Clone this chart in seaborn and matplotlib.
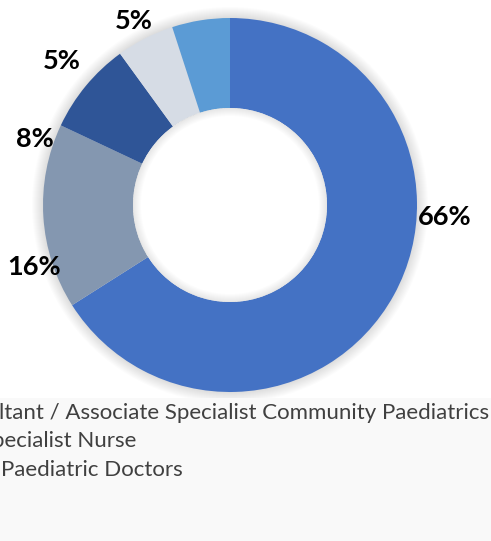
import matplotlib
matplotlib.use("Agg")
import matplotlib.pyplot as plt
from matplotlib.patches import Circle, Wedge, Rectangle
import seaborn as sns

# data
roles = ['Consultant / Associate Specialist Community Paediatrics',
         'Specialist Nurse',
         'Other Paediatric Doctors',
         'Other',
         'Other Staff']
shares = [66, 16, 8, 5, 5]
pct_labels = ['66%', '16%', '8%', '5%', '5%']
colors = ['#4472C4', '#8497B0', '#2F5597', '#D6DCE5', '#5B9BD5']

sns.set_theme(style='white')
plt.rcParams['font.family'] = ['Lato', 'DejaVu Sans']

W, H = 491, 541
fig = plt.figure(figsize=(W / 100, H / 100), dpi=100)
ax = fig.add_axes([0, 0, 1, 1])

cx, cy = 230, 205
r_out, r_in = 187, 97

# soft shadow round the ring
for k in range(1, 12):
    ax.add_patch(Circle((cx, cy), r_out + k, color='#000000', alpha=0.01, lw=0, zorder=0))

ax.pie(shares, colors=colors, startangle=-90, counterclock=True,
       center=(cx, cy), radius=r_out,
       wedgeprops=dict(width=r_out - r_in, linewidth=0))

# white hole with a faint inner shadow
ax.add_patch(Circle((cx, cy), r_in, color='white', lw=0, zorder=4))
for k in range(1, 9):
    ax.add_patch(Wedge((cx, cy), r_in, 0, 360, width=k, color='#000000',
                       alpha=0.01, lw=0, zorder=5))

# percentage labels (placed like the Excel best-fit labels)
label_xy = [(445, 217), (34, 267), (35, 139), (62, 61), (134, 21)]
for txt, (x, y) in zip(pct_labels, label_xy):
    ax.text(x, y, txt, ha='center', va='center', fontsize=19.5,
            fontweight='bold', color='black', zorder=6)

# legend box, left part cut off like the reference
ax.add_patch(Rectangle((0, 398), W, H - 398, color='#F9F9F9', lw=0, zorder=1))
legend_right = [489, 136, 183]
legend_y = [413, 441, 470]
for name, x, y in zip(roles[:3], legend_right, legend_y):
    ax.text(x, y, name, ha='right', va='center', fontsize=16.0,
            color='#404040', zorder=6)

ax.set_xlim(0, W)
ax.set_ylim(H, 0)
ax.set_aspect('auto')
ax.axis('off')

fig.savefig('out.png', dpi=100)
